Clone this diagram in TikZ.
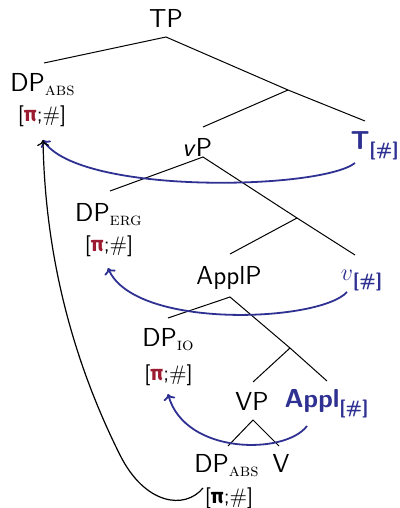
\documentclass[tikz,border=0pt]{standalone}
\usepackage{fontspec}
\usepackage{amsmath}
\usetikzlibrary{arrows.meta}
\newfontfamily\pifam{Fira Sans}
\definecolor{agr}{RGB}{46,49,146}
\definecolor{pired}{RGB}{155,27,48}
\newcommand{\sbx}[1]{\raisebox{-2pt}{\fontsize{9}{9}\selectfont\rmfamily\textsc{#1}}}
\newcommand{\fsub}{\raisebox{-3pt}{\fontsize{9}{9}\selectfont\sffamily\bfseries[\#]}}
\newcommand{\feat}[1]{{\fontsize{10.5}{12}\selectfont\sffamily [#1;$\#$]}}
\newcommand{\pir}{{\color{pired}\pifam\bfseries π}}
\newcommand{\pib}{{\pifam\bfseries π}}
\begin{document}
\begin{tikzpicture}[x=0.5pt,y=-0.5pt,
  every node/.style={inner sep=0pt,anchor=base,font=\fontsize{13}{15}\selectfont\sffamily},
  tree/.style={line width=0.5pt},
  agree/.style={agr,line width=0.9pt,-{To[length=3pt,width=6pt]}},
  move/.style={black,line width=0.6pt,-{To[length=3pt,width=6pt]}},
  probe/.style={text=agr}]
\useasboundingbox (0,0) rectangle (400,508);
% nodes
\node (tp) at (166,28) {TP};
\node (dpabs) at (42.5,91) {DP\sbx{abs}};
\node (dpabsf) at (42,121.5) {\feat{\pir}};
\node (vp) at (197,156) {\textit{v}P};
\node[probe] (t) at (374.5,149) {\bfseries T\fsub};
\node (dperg) at (108.5,221) {DP\sbx{erg}};
\node (dpergf) at (109,251.5) {\feat{\pir}};
\node (applp) at (229,284) {ApplP};
\node[probe] (vh) at (361.5,280) {$v$\fsub};
\node (dpio) at (168,346) {DP\sbx{io}};
\node (dpiof) at (168.5,380) {\feat{\pir}};
\node (vp2) at (252,410) {VP};
\node[probe] (appl) at (326.5,407) {\bfseries Appl\fsub};
\node (dpabsb) at (226.5,472) {DP\sbx{abs}};
\node (dpabsbf) at (229,503) {\feat{\pib}};
\node (v) at (281,472) {V};
% joints
\coordinate (tpB) at (166,37);
\coordinate (dpabsT) at (44,63);
\coordinate (b1) at (288,90);
\coordinate (tT) at (365,121);
\coordinate (vpT) at (203,127);
\coordinate (vpB) at (203,157);
\coordinate (dpergT) at (110,191);
\coordinate (b2) at (297,218);
\coordinate (vhT) at (355,255);
\coordinate (applpT) at (230,254);
\coordinate (applpB) at (230,297);
\coordinate (dpioT) at (168,318);
\coordinate (b3) at (290,348);
\coordinate (applT) at (327,381);
\coordinate (vp2T) at (253,382);
\coordinate (vp2B) at (253,420);
\coordinate (dpabsbT) at (228,446);
\coordinate (vT) at (279,446);
% tree
\draw[tree] (dpabsT) -- (tpB) -- (b1) -- (tT);
\draw[tree] (b1) -- (vpT);
\draw[tree] (dpergT) -- (vpB) -- (b2) -- (vhT);
\draw[tree] (b2) -- (applpT);
\draw[tree] (dpioT) -- (applpB) -- (b3) -- (applT);
\draw[tree] (b3) -- (vp2T);
\draw[tree] (dpabsbT) -- (vp2B) -- (vT);
% arrow ends
\coordinate (tA) at (355,163);
\coordinate (dpabsA) at (43,140);
\coordinate (vhA) at (347,292);
\coordinate (dpergA) at (108,268);
\coordinate (applA) at (307,426);
\coordinate (dpioA) at (168,394);
\coordinate (dpabsbA) at (203,488);
% agreement arrows
\draw[agree] (tA) .. controls (320,190) and (80,195) .. (dpabsA);
\draw[agree] (vhA) .. controls (320,322) and (135,330) .. (dpergA);
\draw[agree] (applA) .. controls (285,455) and (185,455) .. (dpioA);
% movement
\draw[move] (dpabsbA) .. controls (185,510) and (145,505) .. (120,455)
  .. controls (70,355) and (45,250) .. (dpabsA);
\end{tikzpicture}
\end{document}
